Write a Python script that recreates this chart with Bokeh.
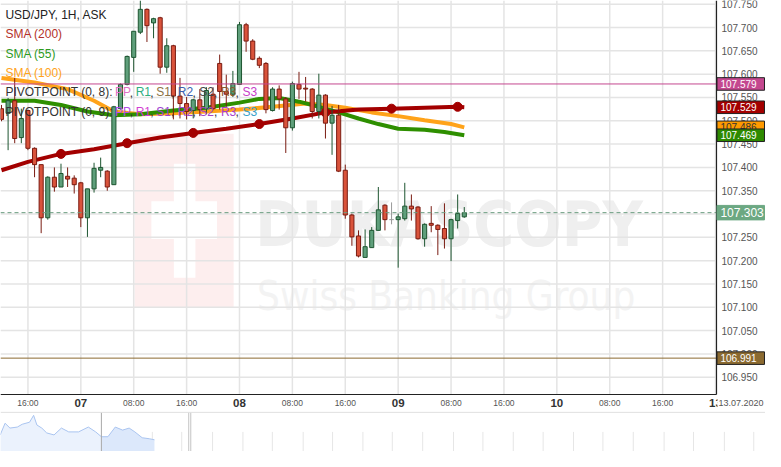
from bokeh.plotting import figure
from bokeh.models import Label, Span, BoxAnnotation, Range1d, ColumnDataSource
from bokeh.layouts import column
from bokeh.core.properties import value
from bokeh.embed import file_html
from bokeh.resources import INLINE

# ---------------- data (hours relative to 07 Jul 2020 00:00) ----------------
hours = [-12, -11, -10, -9, -8, -7, -6, -5, -4, -3, -2, -1,
         0, 1, 2, 3, 4, 5, 6, 7, 8, 9, 10, 11, 12, 13, 14, 15, 16, 17, 18, 19, 20, 21, 22, 23,
         24, 25, 26, 27, 28, 29, 30, 31, 32, 33, 34, 35, 36, 37, 38, 39, 40, 41, 42, 43, 44, 45, 46, 47,
         48, 49, 50, 51, 52, 53, 54, 55, 56, 57, 58]
opens = [107.526, 107.516, 107.543, 107.464, 107.522, 107.441, 107.406, 107.292, 107.379, 107.358, 107.381, 107.377,
         107.367, 107.292, 107.354, 107.394, 107.392, 107.363, 107.526, 107.578, 107.636, 107.690, 107.739, 107.710,
         107.721, 107.615, 107.661, 107.553, 107.537, 107.522, 107.545, 107.526, 107.557, 107.623, 107.563, 107.557,
         107.578, 107.706, 107.671, 107.634, 107.623, 107.522, 107.568, 107.547, 107.485, 107.578, 107.570, 107.568,
         107.520, 107.555, 107.495, 107.512, 107.394, 107.298, 107.253, 107.207, 107.228, 107.265, 107.319, 107.288,
         107.288, 107.290, 107.317, 107.315, 107.247, 107.280, 107.276, 107.269, 107.247, 107.286, 107.294]
highs = [107.534, 107.549, 107.592, 107.526, 107.524, 107.443, 107.406, 107.381, 107.400, 107.408, 107.400, 107.383,
         107.369, 107.354, 107.410, 107.421, 107.394, 107.532, 107.580, 107.640, 107.692, 107.758, 107.741, 107.721,
         107.723, 107.677, 107.663, 107.592, 107.551, 107.547, 107.568, 107.572, 107.572, 107.642, 107.599, 107.607,
         107.712, 107.710, 107.675, 107.638, 107.626, 107.572, 107.576, 107.551, 107.584, 107.605, 107.594, 107.570,
         107.601, 107.557, 107.532, 107.534, 107.406, 107.301, 107.265, 107.267, 107.272, 107.358, 107.321, 107.325,
         107.301, 107.367, 107.342, 107.317, 107.280, 107.317, 107.278, 107.323, 107.290, 107.342, 107.315]
lows = [107.499, 107.437, 107.452, 107.452, 107.437, 107.379, 107.259, 107.288, 107.348, 107.358, 107.358, 107.344,
        107.272, 107.251, 107.346, 107.379, 107.350, 107.363, 107.524, 107.576, 107.605, 107.686, 107.669, 107.677,
        107.601, 107.603, 107.503, 107.505, 107.503, 107.505, 107.510, 107.514, 107.524, 107.524, 107.530, 107.551,
        107.578, 107.648, 107.630, 107.613, 107.516, 107.520, 107.524, 107.431, 107.479, 107.547, 107.541, 107.505,
        107.505, 107.462, 107.427, 107.390, 107.290, 107.232, 107.207, 107.207, 107.228, 107.265, 107.265, 107.278,
        107.185, 107.286, 107.286, 107.245, 107.230, 107.261, 107.212, 107.226, 107.199, 107.269, 107.292]
closes = [107.503, 107.543, 107.462, 107.505, 107.441, 107.406, 107.292, 107.379, 107.358, 107.387, 107.375, 107.363,
          107.292, 107.354, 107.398, 107.400, 107.358, 107.530, 107.578, 107.638, 107.692, 107.739, 107.704, 107.719,
          107.615, 107.661, 107.553, 107.537, 107.520, 107.545, 107.524, 107.565, 107.526, 107.563, 107.557, 107.580,
          107.706, 107.671, 107.632, 107.619, 107.524, 107.568, 107.547, 107.485, 107.580, 107.568, 107.568, 107.520,
          107.555, 107.495, 107.512, 107.392, 107.298, 107.251, 107.210, 107.230, 107.265, 107.309, 107.288, 107.288,
          107.294, 107.317, 107.311, 107.247, 107.278, 107.276, 107.267, 107.247, 107.288, 107.301, 107.303]

sma200_h = [-12, -8, -3, 2, 7, 12, 17, 22, 27, 32, 37, 42, 47, 52, 57, 58]
sma200 = [107.394, 107.412, 107.429, 107.439, 107.452, 107.464, 107.474, 107.483, 107.493, 107.505,
          107.518, 107.524, 107.526, 107.528, 107.530, 107.529]
sma200_dot_h = [-3, 7, 17, 27, 37, 47, 57]

sma55_h = [-12, -7, -3, 1, 5, 9, 14, 19, 24, 27, 30, 33, 36, 39, 42, 45, 48, 52, 55, 58]
sma55 = [107.543, 107.543, 107.534, 107.520, 107.512, 107.514, 107.522, 107.528, 107.539, 107.547,
         107.549, 107.541, 107.530, 107.518, 107.505, 107.493, 107.483, 107.481, 107.476, 107.469]

sma100_h = [-12, -7, -2, 2, 5, 9, 14, 19, 24, 29, 34, 37, 40, 44, 48, 52, 56, 58]
sma100 = [107.592, 107.582, 107.568, 107.543, 107.520, 107.514, 107.516, 107.520, 107.524, 107.530,
          107.537, 107.534, 107.528, 107.518, 107.510, 107.501, 107.493, 107.486]

pivot_level = 107.579
support_level = 106.991
last_price = 107.303

y_ticks = [106.95, 107.00, 107.05, 107.10, 107.15, 107.20, 107.25, 107.30, 107.35, 107.40,
           107.45, 107.50, 107.55, 107.60, 107.65, 107.70, 107.75]
x_ticks = [-8, 0, 8, 16, 24, 32, 40, 48, 56, 64, 72, 80, 88, 96]
x_tick_labels = ["16:00", "07", "08:00", "16:00", "08", "08:00", "16:00", "09", "08:00", "16:00",
                 "10", "08:00", "16:00", "13"]
x_tick_is_day = [False, True, False, False, True, False, False, True, False, False, True, False, False, True]
date_label = "13.07.2020"

# navigator (overview) series
nav_h = [-136, -130, -124, -115, -109, -100, -95, -91, -85, -79, -70, -61, -52, -40, -28, -19, -12,
         -4, 5, 14, 22, 29, 38, 47, 53]
nav_p = [107.39, 107.85, 107.66, 107.70, 107.81, 107.89, 108.16, 107.78, 107.66, 107.47, 107.39, 107.66,
         107.51, 107.51, 107.70, 107.51, 107.32, 107.32, 107.70, 107.58, 107.66, 107.51, 107.28, 107.24, 107.20]
nav_tick_h = [-60.6, -24.6, 14.4, 50.4, 86.4, 124.2, 161.4, 197.4, 235.2, 271.2, 308.4, 344.4, 381.6,
              419.4, 455.4, 492.6, 529.2, 566.4, 602.4, 639.6, 677.4, 713.4, 751.2, 787.2]

# ---------------- geometry ----------------
X0, X1 = -12.15, 96.15          # visible time span of the candle area
Y_TOP, Y_BOT = 107.758, 106.913  # visible price span of the candle area
REF_PW, REF_PH = 731.0, 408.0
FRAME_W, FRAME_H = 716, 394
TOTAL_W, TOTAL_H = 765, 410
XR = X0 + (X1 - X0) * TOTAL_W / FRAME_W
YB = Y_TOP - (Y_TOP - Y_BOT) * TOTAL_H / FRAME_H
FONT = "Liberation Sans"
PX_P = (Y_TOP - Y_BOT) / REF_PH


def hx(xr):
    return X0 + (X1 - X0) * xr / REF_PW


def py(yr):
    return Y_TOP - (Y_TOP - Y_BOT) * yr / REF_PH


p = figure(frame_width=TOTAL_W, frame_height=TOTAL_H, x_range=Range1d(X0, XR),
           y_range=Range1d(YB, Y_TOP), output_backend="svg", toolbar_location=None, min_border=0)
p.axis.visible = False
p.grid.visible = False
p.outline_line_color = None
p.background_fill_color = "white"
p.border_fill_color = "white"

# watermark
p.add_layout(BoxAnnotation(left=hx(137), right=hx(238), top=py(138), bottom=py(318),
                           fill_color="#fdeeee", fill_alpha=1, line_color=None, level="image"))
p.add_layout(BoxAnnotation(left=hx(177), right=hx(199), top=py(169), bottom=py(287),
                           fill_color="white", fill_alpha=1, line_color=None, level="image"))
p.add_layout(BoxAnnotation(left=hx(154), right=hx(221), top=py(208), bottom=py(247),
                           fill_color="white", fill_alpha=1, line_color=None, level="image"))
p.add_layout(Label(x=hx(260), y=py(232), text="DUKASCOPY", text_color="#efefef",
                   text_font="Liberation Sans Narrow, DejaVu Sans Condensed, sans-serif",
                   text_font_size="62px", text_font_style="bold", text_baseline="alphabetic",
                   level="image"))
p.add_layout(Label(x=hx(262), y=py(306), text="Swiss Banking Group", text_color="#f3f3f3",
                   text_font="Liberation Sans Narrow, DejaVu Sans Condensed, sans-serif",
                   text_font_size="40px", text_baseline="alphabetic", level="image"))

# grid (limited to the candle area)
p.segment(x0=x_ticks, y0=[Y_TOP] * len(x_ticks), x1=x_ticks, y1=[Y_BOT] * len(x_ticks),
          line_color="#e4e4e4", line_width=1.5, level="underlay")
p.segment(x0=[X0] * len(y_ticks), y0=y_ticks, x1=[X1] * len(y_ticks), y1=y_ticks,
          line_color="#e4e4e4", line_width=1.5, level="underlay")

# moving averages
p.line(sma100_h, sma100, line_width=4, line_color="#ffa31a")
p.line(sma55_h, sma55, line_width=4, line_color="#2e8f00")
p.line(sma200_h, sma200, line_width=4, line_color="#a30000")
dot_vals = [sma200[sma200_h.index(h)] for h in sma200_dot_h]
p.scatter(sma200_dot_h, dot_vals, size=9, fill_color="#a30000", line_color="#a30000")

# candles
UP_F, UP_L = "#5f9f7b", "#1d5530"
DN_F, DN_L = "#d9533b", "#7a1c12"
DOJI = "#9a9a9a"
wick_col = [UP_L if c > o else (DN_L if c < o else DOJI) for o, c in zip(opens, closes)]
p.segment(x0=hours, y0=highs, x1=hours, y1=lows, line_color=wick_col, line_width=1)

bx, btop, bbot, bfill, bline, dx, dy = [], [], [], [], [], [], []
for h, o, c in zip(hours, opens, closes):
    if c == o:
        dx.append(h)
        dy.append(o)
        continue
    bx.append(h)
    btop.append(max(o, c))
    bbot.append(min(o, c))
    bfill.append(UP_F if c > o else DN_F)
    bline.append(UP_L if c > o else DN_L)
body = ColumnDataSource(dict(x=bx, top=btop, bottom=bbot, fill=bfill, line=bline))
p.vbar(x="x", top="top", bottom="bottom", width=0.62, fill_color="fill", line_color="line",
       line_width=1, source=body)
p.segment(x0=[d - 0.35 for d in dx], y0=dy, x1=[d + 0.35 for d in dx], y1=dy,
          line_color=DOJI, line_width=1)

# horizontal levels (candle area only)
p.segment(x0=[X0] * 2, y0=[pivot_level, support_level],
          x1=[X1] * 2, y1=[pivot_level, support_level],
          line_color=["#c4488f", "#8b6a30"], line_width=1)
p.segment(x0=[X0], y0=[last_price], x1=[X1], y1=[last_price], line_color="#6c9e80",
          line_width=1, line_dash="4 3")

# axis lines
p.segment(x0=[X1, X0], y0=[Y_TOP, Y_BOT], x1=[X1, X1], y1=[Y_BOT, Y_BOT],
          line_color="#222222", line_width=1.2)

# price axis labels
p.text(x=[hx(736)] * len(y_ticks), y=y_ticks, text=["%.3f" % t for t in y_ticks],
       text_font=value(FONT), text_font_size="10px", text_color="#555555",
       text_align="left", text_baseline="middle")

# time axis labels
hr_x = [t for t, d in zip(x_ticks, x_tick_is_day) if not d]
hr_t = [s for s, d in zip(x_tick_labels, x_tick_is_day) if not d]
dy_x = [t for t, d in zip(x_ticks, x_tick_is_day) if d]
dy_t = [s for s, d in zip(x_tick_labels, x_tick_is_day) if d]
p.text(x=hr_x, y=[py(416.5)] * len(hr_x), text=hr_t, text_font=value(FONT), text_font_size="8.5px",
       text_color="#555555", text_align="center", text_baseline="middle")
p.text(x=dy_x, y=[py(416.5)] * len(dy_x), text=dy_t, text_font=value(FONT), text_font_size="11.5px",
       text_font_style="bold", text_color="#333333", text_align="center", text_baseline="middle")
p.quad(left=[hx(732)], right=[hx(781)], top=[py(409)], bottom=[py(425)], fill_color="white",
       line_color=None)
p.text(x=[hx(733)], y=[py(416.5)], text=[date_label], text_font=value(FONT), text_font_size="9px",
       text_color="#555555", text_align="left", text_baseline="middle")

# value boxes on the price axis
box_vals = [pivot_level, sma200[-1], sma100[-1], sma55[-1], last_price, support_level]
box_bg = ["#c4488f", "#a30000", "#ff9a00", "#2e8a00", "#6ca882", "#8b6a30"]
box_fg = ["white", "white", "#333333", "white", "white", "white"]
box_border = ["#222222", "#222222", "#222222", "#222222", "#6ca882", "#222222"]
box_size = ["10px", "10px", "10px", "10px", "12px", "10px"]
for v, bg, fg, bd, sz in zip(box_vals, box_bg, box_fg, box_border, box_size):
    half = (7.5 if sz == "12px" else 6.5) * PX_P
    p.quad(left=[hx(731.5)], right=[hx(780)], top=[v + half], bottom=[v - half],
           fill_color=bg, line_color=bd, line_width=1)
    p.text(x=[hx(735)], y=[v], text=["%.3f" % v], text_font=value(FONT), text_font_size=sz,
           text_color=fg, text_align="left", text_baseline="middle")


def lab(xr, yr, text, color, size="12px"):
    p.add_layout(Label(x=hx(xr), y=py(yr), text=text, text_color=color, text_font=FONT,
                       text_font_size=size, text_align="left", text_baseline="middle"))


# legend texts
lab(5, 15, "USD/JPY, 1H, ASK", "#222222")
lab(5, 35, "SMA (200)", "#b3312a")
lab(5, 55, "SMA (55)", "#2e9a1e")
lab(5, 75, "SMA (100)", "#ffa31a")
piv_names = ["PP", "R1", "S1", "R2", "S2", "R3", "S3"]
piv_x = [117, 138, 159, 181, 203, 225, 247]
piv8_colors = ["#e070c4", "#2fae7f", "#8c7346", "#3a5fb0", "#444444", "#8a5a2e", "#c83cc8"]
piv9_colors = ["#b24ee8", "#d23dd2", "#a040d0", "#9b47d6", "#a445c8", "#a83ed0", "#3aa0c8"]
for yr, head, cols in [(95, "PIVOTPOINT (0, 8):", piv8_colors), (115, "PIVOTPOINT (0, 9):", piv9_colors)]:
    lab(5, yr, head, "#333333")
    for i, (nm, xr, col) in enumerate(zip(piv_names, piv_x, cols)):
        lab(xr, yr, nm, col)
        if i < len(piv_names) - 1:
            lab(xr + 15, yr, ",", "#333333")

# ---------------- navigator ----------------
NX0 = -135.6
NX1 = NX0 + 1.2 * 781
NY_TOP, NY_BOT = 108.35, 106.74
p2 = figure(frame_width=TOTAL_W, frame_height=41, x_range=Range1d(NX0, NX1),
            y_range=Range1d(NY_BOT, NY_TOP), output_backend="svg", toolbar_location=None,
            min_border=0)
p2.axis.visible = False
p2.grid.visible = False
p2.outline_line_color = None
p2.segment(x0=nav_tick_h, y0=[107.51] * len(nav_tick_h), x1=nav_tick_h, y1=[NY_BOT] * len(nav_tick_h),
           line_color="#e6e6e6", line_width=1)
split = nav_h.index(-12)
p2.varea(x=nav_h[:split + 1], y1=nav_p[:split + 1], y2=NY_BOT, fill_color="#ebf2fd")
p2.varea(x=nav_h[split:], y1=nav_p[split:], y2=NY_BOT, fill_color="#dce8fb")
p2.line(nav_h, nav_p, line_color="#a9c4f0", line_width=1)
p2.add_layout(Span(location=108.277, dimension="width", line_color="#e0e0e0", line_width=1))
p2.segment(x0=[-12, 95, 97.5], y0=[108.277] * 3, x1=[-12, 95, 97.5], y1=[NY_BOT] * 3,
           line_color=["#a8a8a8", "#c4c4c4", "#c4c4c4"], line_width=1)

layout = column(p, p2, spacing=0)
open("out.html", "w").write(file_html(layout, INLINE))
